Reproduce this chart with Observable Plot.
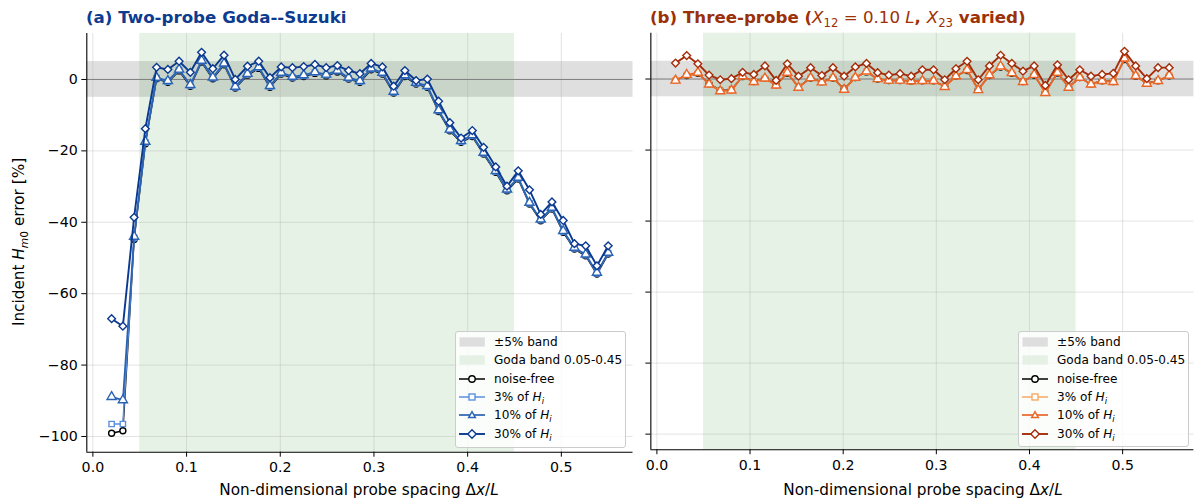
<!DOCTYPE html>
<html>
<head>
<meta charset="utf-8">
<script src="https://cdn.jsdelivr.net/npm/d3@7"></script>
<script src="https://cdn.jsdelivr.net/npm/@observablehq/plot@0.6"></script>
<style>
  html, body { margin: 0; padding: 0; background: white; }
  #wrap { position: relative; width: 1194px; height: 501px; overflow: hidden; font-family: "DejaVu Sans", sans-serif; color: black; }
  .abs { position: absolute; }
  .title { position: absolute; font-weight: bold; font-size: 16.67px; white-space: nowrap; line-height: 1; }
  .title .m { font-weight: normal; }
  .lab { position: absolute; font-size: 15.28px; white-space: nowrap; line-height: 1; }
  sub { font-size: 70%; vertical-align: -0.3em; line-height: 0; }
  .legend { position: absolute; background: rgba(255,255,255,0.8); border: 1px solid #cccccc; border-radius: 3px; box-sizing: border-box; }
  .legend .row { position: absolute; left: 0; height: 18px; width: 100%; }
  .legend .row svg { position: absolute; left: 3px; top: 0; }
  .legend .row span { position: absolute; left: 38px; top: 3px; font-size: 12.1px; white-space: nowrap; line-height: 1; }
</style>
</head>
<body>
<div id="wrap">
  <div id="left" class="abs" style="left:0;top:0"></div>
  <div id="right" class="abs" style="left:640px;top:0"></div>
  <div class="title" style="left:86px;top:10px;color:#0d3b8f">(a) Two-probe Goda--Suzuki</div>
  <div class="title" style="left:650px;top:10px;color:#9c3006">(b) Three-probe (<span class="m"><i>X</i><sub>12</sub> = 0.10 <i>L</i></span>, <span class="m"><i>X</i><sub>23</sub></span> varied)</div>
  <div class="lab" style="left:86px;width:546px;text-align:center;top:483px">Non-dimensional probe spacing Δ<i>x</i>/<i>L</i></div>
  <div class="lab" style="left:650px;width:546px;text-align:center;top:483px">Non-dimensional probe spacing Δ<i>x</i>/<i>L</i></div>
  <div class="lab" style="left:20px;top:242px;transform:translate(-50%,-50%) rotate(-90deg)">Incident <i>H</i><sub><i>m</i>0</sub> error [%]</div>
  <div id="legA" class="legend" style="left:455px;top:331px;width:171px;height:117px"></div>
  <div id="legB" class="legend" style="left:1018px;top:331px;width:171px;height:116px"></div>
</div>
<script>
// ---- data ----
const xs = [0.020, 0.032, 0.044, 0.056, 0.068, 0.080, 0.092, 0.104, 0.116, 0.128,
            0.140, 0.152, 0.165, 0.177, 0.189, 0.201, 0.213, 0.225, 0.237, 0.249,
            0.261, 0.273, 0.285, 0.297, 0.309, 0.321, 0.333, 0.345, 0.357, 0.369,
            0.381, 0.393, 0.405, 0.417, 0.430, 0.442, 0.454, 0.466, 0.478, 0.490,
            0.502, 0.514, 0.526, 0.538, 0.550];

// (a) two-probe Goda-Suzuki
const aNoiseFree = [-99.1, -98.4, -44.8, -18.0, 0.2, -0.8, 2.4, -1.9, 4.9, 0.2,
                    4.1, -2.4, 1.2, 3.1, -2.2, 1.5, 0.4, 0.8, 1.7, 1.0,
                    2.1, 0.1, -0.8, 2.7, 1.5, -3.8, 0.8, -1.3, -2.2, -9.0,
                    -14.4, -17.6, -16.0, -20.9, -26.0, -31.2, -27.9, -34.9, -39.6, -36.3,
                    -42.8, -47.5, -49.4, -54.5, -48.9];
const a3 = [-96.5, -96.5, -44.4, -17.7, 0.4, -0.6, 2.6, -1.7, 5.1, 0.4,
            4.3, -2.2, 1.4, 3.3, -2.0, 1.7, 0.6, 1.0, 1.9, 1.2,
            2.3, 0.3, -0.6, 2.9, 1.7, -3.6, 1.0, -1.1, -2.0, -8.8,
            -14.2, -17.4, -15.8, -20.7, -25.8, -31.0, -27.7, -34.7, -39.4, -36.1,
            -42.6, -47.3, -49.2, -54.3, -48.7];
const a10 = [-88.9, -89.8, -44.0, -17.4, 0.5, -0.4, 2.8, -1.5, 5.3, 0.6,
             4.5, -2.0, 1.6, 3.5, -1.8, 1.9, 0.8, 1.2, 2.1, 1.4,
             2.5, 0.5, -0.4, 3.1, 1.9, -3.4, 1.2, -0.9, -1.8, -8.6,
             -14.0, -17.2, -15.6, -20.5, -25.6, -30.8, -27.5, -34.5, -39.2, -35.9,
             -42.4, -47.1, -49.0, -54.1, -48.5];
const a30 = [-67.0, -69.1, -38.6, -13.8, 3.4, 2.8, 5.1, 2.0, 7.6, 3.0,
             6.8, 0.0, 3.7, 5.1, 0.5, 3.5, 3.3, 3.6, 4.2, 3.3,
             3.9, 2.5, 1.6, 4.5, 3.5, -1.9, 2.5, -0.3, 0.1, -6.1,
             -12.1, -16.4, -14.3, -19.0, -24.5, -29.9, -25.6, -30.9, -37.8, -34.3,
             -39.5, -46.0, -46.6, -52.2, -46.6];

// (b) three-probe
const bNoiseFree = [-0.3, 1.0, 1.6, -1.3, -3.2, -3.0, 0.7, -0.7, 0.2, -1.6,
                    1.6, -2.2, 0.3, -0.8, 0.3, -2.8, 0.4, 2.0, 0.0, -0.4,
                    -0.4, -0.6, -0.5, -0.5, -2.0, 0.8, 2.4, -2.9, 1.0, 3.4,
                    1.6, -0.7, 1.1, -3.7, 1.7, -2.2, 0.4, -1.4, -0.5, -0.7,
                    5.5, 0.8, -1.2, -0.5, 0.9];
const b3 = [-0.4, 1.1, 1.7, -1.4, -3.3, -3.1, 0.8, -0.8, 0.2, -1.7,
            1.7, -2.3, 0.3, -0.9, 0.3, -2.9, 0.4, 2.1, 0.0, -0.4,
            -0.4, -0.6, -0.5, -0.5, -2.1, 0.8, 2.5, -3.0, 1.1, 3.5,
            1.7, -0.8, 1.2, -3.8, 1.8, -2.3, 0.4, -1.5, -0.5, -0.8,
            5.7, 0.9, -1.3, -0.5, 1.0];
const b10 = [-0.4, 1.2, 1.8, -1.5, -3.4, -3.2, 0.8, -0.8, 0.2, -1.8,
             1.8, -2.4, 0.3, -0.9, 0.3, -3.0, 0.4, 2.2, 0.0, -0.4,
             -0.4, -0.6, -0.5, -0.5, -2.2, 0.8, 2.6, -3.1, 1.1, 3.6,
             1.7, -0.8, 1.2, -3.9, 1.8, -2.4, 0.4, -1.5, -0.5, -0.8,
             5.8, 0.9, -1.3, -0.5, 1.0];
const b30 = [4.5, 6.6, 4.3, 1.1, -0.2, 0.1, 1.9, 1.3, 3.7, -0.4,
             4.3, 0.8, 3.2, 1.0, 3.2, 0.8, 3.4, 4.4, 1.8, 1.1,
             1.5, 0.8, 2.6, 2.6, -0.2, 2.9, 5.0, -0.2, 3.7, 6.7,
             4.4, 2.2, 3.7, -1.8, 4.0, -0.2, 2.6, 0.8, 1.3, 1.6,
             7.8, 3.7, 0.1, 3.2, 3.2];

const xTicks = [0.0, 0.1, 0.2, 0.3, 0.4, 0.5];
const yTicks = [-100, -80, -60, -40, -20, 0];
const xDomain = [-0.0065, 0.5765];
const yDomain = [-104.4, 12.9];
const errBand = [-5, 5];
const godaBand = [0.05, 0.45];

const seriesNames = ["noise-free", "3% of H_i", "10% of H_i", "30% of H_i"];
const symbols = ["circle", "square", "triangle", "diamond2"];
const radii = [3.0, 3.0, 3.4, 3.5];
const lineWidths = [1.5, 1.5, 1.7, 1.9];
const blues = ["#000000", "#5b8fdc", "#2a63b1", "#0b3990"];
const oranges = ["#000000", "#f8a862", "#ea6628", "#a52c08"];

function panel(seriesArrays, colors, showYLabels, width, marginLeft, marginRight) {
  const marks = [
    Plot.rect([{x1: xDomain[0], x2: xDomain[1], y1: errBand[0], y2: errBand[1]}],
      {x1: "x1", x2: "x2", y1: "y1", y2: "y2", fill: "#808080", fillOpacity: 0.25}),
    Plot.rect([{x1: godaBand[0], x2: godaBand[1], y1: yDomain[0], y2: yDomain[1]}],
      {x1: "x1", x2: "x2", y1: "y1", y2: "y2", fill: "#008000", fillOpacity: 0.1}),
    Plot.gridX(xTicks, {stroke: "#b0b0b0", strokeOpacity: 0.35, strokeWidth: 1}),
    Plot.gridY(yTicks, {stroke: "#b0b0b0", strokeOpacity: 0.35, strokeWidth: 1}),
    Plot.ruleY([0], {stroke: "#808080", strokeWidth: 1}),
    Plot.axisX(xTicks, {tickSize: 5, tickPadding: 5, tickFormat: d => d.toFixed(1), label: null, fontSize: 14.2}),
    Plot.axisY(yTicks, {tickSize: 5, tickPadding: 4, tickFormat: showYLabels ? d3.format("d") : () => "", label: null, fontSize: 14.2}),
    Plot.ruleX([xDomain[0]], {stroke: "black", strokeWidth: 1.1}),
    Plot.ruleY([yDomain[0]], {stroke: "black", strokeWidth: 1.1})
  ];
  seriesArrays.forEach((arr, k) => {
    const data = xs.map((x, i) => ({x, y: arr[i]}));
    marks.push(Plot.line(data, {x: "x", y: "y", stroke: colors[k], strokeWidth: lineWidths[k]}));
    marks.push(Plot.dot(data, {x: "x", y: "y", symbol: symbols[k], r: radii[k], fill: "white", stroke: colors[k], strokeWidth: 1.4}));
  });
  return Plot.plot({
    width, height: 501,
    marginLeft, marginRight, marginTop: 32.9, marginBottom: 49.3,
    x: {domain: xDomain},
    y: {domain: yDomain},
    style: {fontFamily: "DejaVu Sans", fontSize: "14.2px", background: "transparent", color: "black", overflow: "visible"},
    marks
  });
}

document.getElementById("left").appendChild(
  panel([aNoiseFree, a3, a10, a30], blues, true, 640, 86.3, 7.5));
document.getElementById("right").appendChild(
  panel([bNoiseFree, b3, b10, b30], oranges, false, 557, 10.4, 0.6));

// ---- legends ----
const symbolPaths = {
  circle: r => `<circle cx="13" cy="5" r="${r}"/>`,
  square: r => `<rect x="${13 - r}" y="${5 - r}" width="${2 * r}" height="${2 * r}"/>`,
  triangle: r => `<path d="M13,${5 - r} L${13 + r},${5 + r * 0.75} L${13 - r},${5 + r * 0.75} Z"/>`,
  diamond2: r => `<path d="M13,${5 - r} L${13 + r},5 L13,${5 + r} L${13 - r},5 Z"/>`
};
const legSizes = [3.2, 3.0, 3.4, 4.2];
function legend(id, colors) {
  const el = document.getElementById(id);
  const rowH = 18.35;
  const rows = [];
  rows.push({patch: "#dedede", label: "±5% band"});
  rows.push({patch: "#e5f1e5", label: "Goda band 0.05-0.45"});
  seriesNames.forEach((n, k) => rows.push({k, label: n === "noise-free" ? n : n.replace("H_i", "<i>H</i><sub><i>i</i></sub>")}));
  rows.forEach((row, j) => {
    const div = document.createElement("div");
    div.className = "row";
    div.style.top = (1 + j * rowH) + "px";
    let svg;
    if (row.patch) {
      svg = `<svg width="27" height="18"><rect x="0.5" y="4.3" width="25.3" height="9.3" fill="${row.patch}"/></svg>`;
    } else {
      const c = colors[row.k];
      svg = `<svg width="27" height="18"><g transform="translate(0,4)"><line x1="0" y1="5" x2="26" y2="5" stroke="${c}" stroke-width="${lineWidths[row.k]}"/>` +
        `<g fill="white" stroke="${c}" stroke-width="1.4">${symbolPaths[symbols[row.k]](legSizes[row.k])}</g></g></svg>`;
    }
    div.innerHTML = svg + `<span>${row.label}</span>`;
    el.appendChild(div);
  });
}
legend("legA", blues);
legend("legB", oranges);
</script>
</body>
</html>
